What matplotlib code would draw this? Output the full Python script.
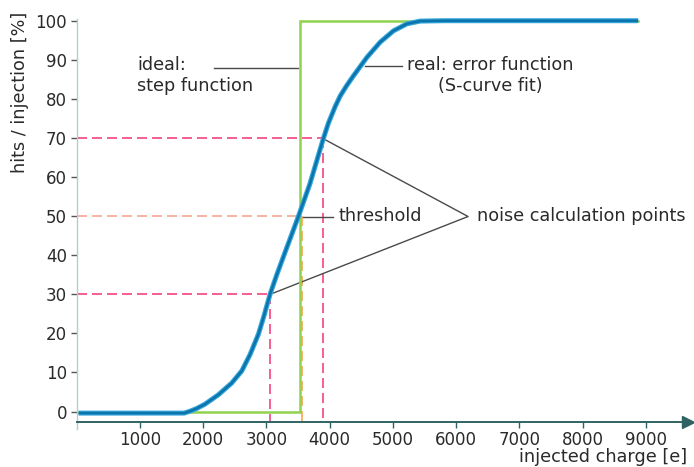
import matplotlib
matplotlib.use("Agg")
import matplotlib.pyplot as plt

plt.rcParams["font.family"] = ["DejaVu Sans"]

# S-curve (error function fit): charge [e] vs hits/injection [%]
curve_x = [30, 1000, 1700, 1795, 1900, 2030, 2241, 2452, 2611, 2742, 2874,
           2953, 3058, 3160, 3269, 3506, 3691, 3902, 3981, 4087, 4166, 4270,
           4377, 4589, 4799, 5009, 5222, 5432, 5800, 8880]
curve_y = [-0.4, -0.4, -0.4, 0.1, 0.8, 1.9, 4.3, 7.3, 10.4, 14.6, 19.8,
           24.0, 30.0, 34.8, 39.6, 49.9, 58.4, 69.9, 73.8, 78.0, 80.7, 83.4,
           85.9, 90.6, 94.5, 97.4, 99.2, 99.9, 100.0, 100.0]

# ideal step function
step_x = [30, 3533, 3533, 8880]
step_y = [0, 0, 100, 100]

# noise calculation points and threshold
low_pt = (3058, 30)
thr_pt = (3510, 50)
high_pt = (3895, 70)

x_ticks = [1000, 2000, 3000, 4000, 5000, 6000, 7000, 8000, 9000]
y_ticks = [0, 10, 20, 30, 40, 50, 60, 70, 80, 90, 100]

W, H = 694, 467
fig = plt.figure(figsize=(W / 100, H / 100), dpi=100)
ax = fig.add_axes([76.7 / W, 45.3 / H, (690 - 76.7) / W, (421.7 - 16.8) / H])

XMAX = 9700
YMIN, YMAX = -2.6, 101
ax.set_xlim(0, XMAX)
ax.set_ylim(YMIN, YMAX)

pink = "#f5437f"
salmon = "#f8a792"
orange = "#f6a552"
dash = (0, (6, 3))

# guide lines at 30 % / 70 %
for (px, py) in (low_pt, high_pt):
    ax.plot([0, px], [py, py], color=pink, lw=1.2, ls=dash, zorder=2)
    ax.plot([px, px], [py, YMIN], color=pink, lw=1.2, ls=dash, zorder=2)
# guide lines at threshold
ax.plot([0, thr_pt[0]], [thr_pt[1], thr_pt[1]], color=salmon, lw=1.2, ls=dash, zorder=2)
ax.plot([3565, 3565], [thr_pt[1], YMIN], color=orange, lw=1.2, ls=dash, zorder=2)

# ideal step
ax.plot(step_x, step_y, color="#8fd34e", lw=1.8, zorder=3, solid_joinstyle="miter")
# real S-curve
ax.plot(curve_x, curve_y, color="#36a6dc", lw=3.6, zorder=4,
        solid_capstyle="butt", solid_joinstyle="round")
ax.plot(curve_x, curve_y, color="#0a74ab", lw=1.9, zorder=5,
        solid_capstyle="butt", solid_joinstyle="round")

ink = "#2a2a2a"
lead = "#4a4a4a"
fs = 12
afs = 12.7

# annotations
ax.plot([2175, 3500], [87.8, 87.8], color=lead, lw=1)
ax.text(954, 86.0, "ideal:\nstep function", fontsize=afs, color=ink,
        ha="left", va="center", linespacing=1.2)

ax.plot([4562, 5147], [88.4, 88.4], color=lead, lw=1)
ax.text(6535, 86.0, "real: error function\n(S-curve fit)", fontsize=afs, color=ink,
        ha="center", va="center", multialignment="center", linespacing=1.2)

ax.plot([3585, 4060], [49.9, 49.9], color=lead, lw=1)
ax.text(4135, 50.0, "threshold", fontsize=afs, color=ink, ha="left", va="center")

apex = (6190, 49.9)
ax.plot([high_pt[0] + 40, apex[0], low_pt[0] + 50],
        [high_pt[1] - 0.5, apex[1], low_pt[1] + 0.3], color=lead, lw=1)
ax.text(6329, 50.0, "noise calculation points", fontsize=afs, color=ink,
        ha="left", va="center")

# axes styling
for s in ("top", "right"):
    ax.spines[s].set_visible(False)
ax.spines["left"].set_color("#b5cccc")
ax.spines["left"].set_linewidth(1.0)
ax.spines["left"].set_bounds(-4.5, 100.5)
ax.spines["bottom"].set_color("#2f6363")
ax.spines["bottom"].set_linewidth(1.4)
ax.plot([XMAX - 30], [YMIN], marker=">", markersize=9, color="#2f6363",
        clip_on=False, zorder=6)

ax.set_xticks(x_ticks)
ax.set_yticks(y_ticks)
ax.tick_params(axis="x", length=4, width=1, color="#2f6363", labelsize=fs,
               labelcolor=ink, pad=3)
ax.tick_params(axis="y", length=4, width=1, color="#555555", labelsize=fs,
               labelcolor=ink, pad=3)

fig.text(687 / W, 1 - 457 / H, "injected charge [e]", fontsize=afs, color=ink,
         ha="right", va="center")
fig.text(20 / W, 1 - 92 / H, "hits / injection [%]", fontsize=afs, color=ink,
         ha="center", va="center", rotation=90)

fig.savefig("out.png", dpi=100, facecolor="white")
